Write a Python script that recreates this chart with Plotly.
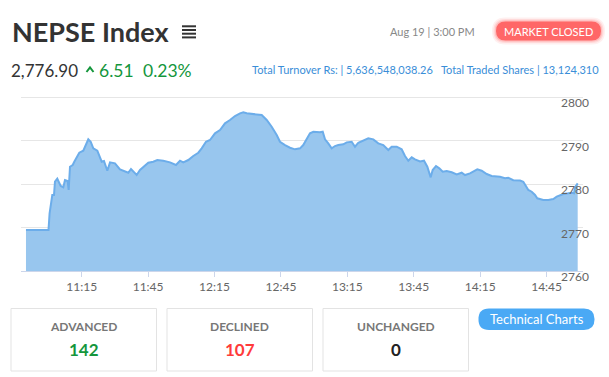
import plotly.graph_objects as go

# ---------------- data ----------------
DATE = "2024-08-19"
times = [
    "10:49:50", "11:00:00", "11:00:30", "11:01:00", "11:01:43", "11:02:29", "11:02:56", "11:03:58",
    "11:05:31", "11:06:41", "11:07:27", "11:08:40", "11:09:07", "11:09:43", "11:10:56", "11:11:39",
    "11:12:44", "11:13:55", "11:15:43", "11:16:56", "11:17:59", "11:19:04", "11:20:14", "11:22:03",
    "11:24:02", "11:25:04", "11:26:34", "11:27:47", "11:30:02", "11:32:18", "11:34:33", "11:36:03",
    "11:37:16", "11:38:45", "11:39:50", "11:41:20", "11:43:08", "11:45:05", "11:47:20", "11:49:09",
    "11:51:51", "11:54:53", "11:57:35", "11:59:24", "12:00:53", "12:03:09", "12:05:24", "12:07:40",
    "12:09:12", "12:11:08", "12:12:57", "12:15:13", "12:17:28", "12:19:44", "12:21:59", "12:24:15",
    "12:26:30", "12:27:59", "12:29:32", "12:31:47", "12:34:03", "12:36:18", "12:38:34", "12:40:49",
    "12:43:05", "12:44:34", "12:46:50", "12:49:05", "12:51:21", "12:53:37", "12:55:05", "12:56:54",
    "12:58:07", "12:59:37", "13:02:38", "13:03:52", "13:04:54", "13:06:23", "13:07:55", "13:09:25",
    "13:10:54", "13:13:10", "13:14:42", "13:16:57", "13:18:27", "13:19:56", "13:22:12", "13:24:27",
    "13:26:43", "13:28:58", "13:31:14", "13:33:29", "13:35:01", "13:37:17", "13:39:32", "13:41:02",
    "13:42:31", "13:44:04", "13:45:33", "13:47:49", "13:49:37", "13:51:07", "13:52:38", "13:53:32",
    "13:55:02", "13:56:32", "13:58:04", "13:59:52", "14:02:08", "14:04:23", "14:06:38", "14:08:08",
    "14:10:23", "14:11:53", "14:13:41", "14:15:41", "14:17:56", "14:20:11", "14:22:27", "14:23:56",
    "14:26:12", "14:27:41", "14:29:57", "14:32:59", "14:34:28", "14:35:41", "14:36:44", "14:38:16",
    "14:39:46", "14:40:47", "14:42:01", "14:43:30", "14:45:46", "14:48:01", "14:49:34", "14:51:03",
    "14:52:32", "14:54:48", "14:56:20", "14:57:22", "14:57:49", "14:59:02",
]
index_values = [
    2769.43, 2769.43, 2773.28, 2775.19, 2777.49, 2777.49, 2780.55, 2781.24,
    2779.56, 2779.26, 2780.94, 2780.71, 2778.64, 2784.00, 2784.39, 2785.15,
    2786.30, 2787.22, 2787.68, 2788.99, 2790.30, 2789.75, 2788.23, 2787.68,
    2785.15, 2785.31, 2783.08, 2785.01, 2784.78, 2783.40, 2782.85, 2782.62,
    2783.47, 2782.62, 2782.09, 2783.24, 2784.00, 2784.92, 2785.15, 2785.54,
    2785.38, 2785.01, 2784.39, 2785.38, 2785.01, 2785.54, 2786.46, 2787.22,
    2788.23, 2789.75, 2790.14, 2791.69, 2792.44, 2793.99, 2794.75, 2795.67,
    2796.29, 2796.52, 2796.29, 2796.13, 2796.06, 2795.90, 2794.75, 2793.20,
    2791.29, 2789.75, 2788.99, 2788.37, 2788.00, 2788.23, 2788.99, 2790.53,
    2791.69, 2792.05, 2791.92, 2792.05, 2790.30, 2789.38, 2788.23, 2788.76,
    2788.99, 2789.15, 2789.61, 2789.75, 2788.60, 2789.52, 2789.98, 2790.53,
    2790.30, 2789.38, 2788.99, 2787.84, 2788.60, 2788.60, 2788.00, 2786.46,
    2785.38, 2786.16, 2785.70, 2785.20, 2785.38, 2784.00, 2781.56, 2783.24,
    2784.16, 2783.63, 2782.85, 2783.01, 2782.71, 2782.25, 2782.62, 2782.09,
    2782.48, 2782.85, 2783.40, 2783.08, 2782.32, 2781.86, 2781.86, 2781.70,
    2781.33, 2781.47, 2780.89, 2780.82, 2780.55, 2779.40, 2778.64, 2778.25,
    2777.49, 2776.73, 2776.57, 2776.34, 2776.34, 2776.57, 2777.10, 2777.49,
    2777.72, 2777.88, 2778.02, 2777.88, 2779.26, 2780.18,
]
x_range = ["10:47:35", "15:01:26"]
y_range = [2760, 2800.3]
y_ticks = [2760, 2770, 2780, 2790, 2800]
x_tick_labels = ["11:15", "11:45", "12:15", "12:45", "13:15", "13:45", "14:15", "14:45"]

title = "NEPSE Index"
last_value = "2,776.90"
change = "6.51"
change_pct = "0.23%"
date_text = "Aug 19 | 3:00 PM"
status_text = "MARKET CLOSED"
turnover_label = "Total Turnover Rs: | "
turnover_value = "5,636,548,038.26"
shares_label = "Total Traded Shares | "
shares_value = "13,124,310"
box_labels = ["ADVANCED", "DECLINED", "UNCHANGED"]
box_values = ["142", "107", "0"]
box_colors = ["#14963c", "#ff3b3b", "#222222"]
button_text = "Technical Charts"

# ---------------- layout helpers ----------------
W, H = 609, 377
FONT = "Lato"


def px(x):
    return x / W


def py(y):
    return 1 - y / H


def rrect_path(x0, y0, x1, y1, r):
    pts = [
        ("M", [(x0 + r, y0)]), ("L", [(x1 - r, y0)]), ("Q", [(x1, y0), (x1, y0 + r)]),
        ("L", [(x1, y1 - r)]), ("Q", [(x1, y1), (x1 - r, y1)]), ("L", [(x0 + r, y1)]),
        ("Q", [(x0, y1), (x0, y1 - r)]), ("L", [(x0, y0 + r)]), ("Q", [(x0, y0), (x0 + r, y0)]),
    ]
    s = ""
    for cmd, ps in pts:
        s += cmd + " " + " ".join(f"{px(a):.5f},{py(b):.5f}" for a, b in ps) + " "
    return s + "Z"


xs = [f"{DATE} {t}" for t in times]

fig = go.Figure()
fig.add_trace(go.Scatter(
    x=xs, y=index_values, mode="lines", fill="tozeroy",
    fillcolor="#98c6ee", line=dict(color="#6cadea", width=2),
    hoverinfo="skip", showlegend=False,
))

tickvals = [f"{DATE} {t}:00" for t in x_tick_labels]

PX_PER_UNIT = 4.345
fig.update_layout(
    width=W, height=H, margin=dict(l=0, r=0, t=0, b=0, autoexpand=False),
    paper_bgcolor="white", plot_bgcolor="white",
    font=dict(family=FONT, color="#333"),
    xaxis=dict(
        domain=[px(21), px(583)], type="date", automargin=False,
        range=[f"{DATE} {x_range[0]}", f"{DATE} {x_range[1]}"],
        tickvals=tickvals, ticktext=x_tick_labels,
        showgrid=False, zeroline=False, showline=True, linecolor="#ccd6eb", linewidth=1,
        ticks="outside", ticklen=5, tickcolor="#ccd6eb",
        tickfont=dict(size=12, color="#666666", family=FONT), fixedrange=True,
    ),
    yaxis=dict(
        domain=[py(271), py(271 - (y_range[1] - y_range[0]) * PX_PER_UNIT)], range=y_range,
        automargin=False,
        tickvals=y_ticks, side="right", ticklabelposition="outside",
        ticklabelstandoff=-23, ticklabelshift=6,
        showgrid=True, gridcolor="#e6e6e6", zeroline=False, showline=False,
        tickfont=dict(size=12, color="#666666", family=FONT), fixedrange=True,
    ),
)

shapes = []
ann = []

# hamburger icon
for yy in [26.3, 30.0, 33.7, 37.4]:
    shapes.append(dict(type="line", xref="paper", yref="paper", x0=px(182), x1=px(196),
                       y0=py(yy), y1=py(yy), line=dict(color="#333", width=2)))

# title
ann.append(dict(text=f"<b>{title}</b>", x=px(10), y=py(32), xanchor="left", yanchor="middle",
                font=dict(size=27, color="#333", family=FONT)))

# price line
ann.append(dict(text=last_value, x=px(9), y=py(70), xanchor="left", yanchor="middle",
                font=dict(size=17, color="#333", family=FONT)))
shapes.append(dict(type="path", xref="paper", yref="paper",
                   path=f"M {px(86.5)},{py(72)} L {px(90)},{py(67.5)} L {px(93.5)},{py(72)}",
                   line=dict(color="#14963c", width=2)))
ann.append(dict(text=change, x=px(96.5), y=py(70), xanchor="left", yanchor="middle",
                font=dict(size=17.5, color="#14963c", family=FONT)))
ann.append(dict(text=change_pct, x=px(141), y=py(70), xanchor="left", yanchor="middle",
                font=dict(size=17.5, color="#14963c", family=FONT)))

# turnover line
ann.append(dict(text=f"{turnover_label}{turnover_value}&nbsp;&nbsp;&nbsp;{shares_label}{shares_value}",
                x=px(601), y=py(69.5), xanchor="right", yanchor="middle",
                font=dict(size=11, color="#3a8ed8", family=FONT)))

# date
ann.append(dict(text=date_text, x=px(477), y=py(31.5), xanchor="right", yanchor="middle",
                font=dict(size=11, color="#888888", family=FONT)))

# market closed badge with glow
for g, op in [(4, 0.10), (2.5, 0.15), (1.2, 0.25)]:
    shapes.append(dict(type="path", xref="paper", yref="paper",
                       path=rrect_path(496 - g, 21.5 - g, 601 + g, 40.5 + g, 9.5 + g),
                       fillcolor=f"rgba(255,102,102,{op})", line=dict(width=0)))
shapes.append(dict(type="path", xref="paper", yref="paper",
                   path=rrect_path(496, 21.5, 601, 40.5, 9.5),
                   fillcolor="#ff6767", line=dict(width=0)))
ann.append(dict(text=status_text, x=px(548.5), y=py(31.3), xanchor="center", yanchor="middle",
                font=dict(size=11, color="white", family=FONT)))

# stat boxes
box_x = [(11, 156.5), (167, 312.5), (323, 468.5)]
for (x0, x1), lab, val, col in zip(box_x, box_labels, box_values, box_colors):
    shapes.append(dict(type="rect", xref="paper", yref="paper", x0=px(x0), x1=px(x1),
                       y0=py(308.5), y1=py(371), line=dict(color="#e3e3e3", width=1),
                       fillcolor="rgba(0,0,0,0)"))
    cx = (x0 + x1) / 2
    ann.append(dict(text=f"<b>{lab}</b>", x=px(cx), y=py(326.5), xanchor="center", yanchor="middle",
                    font=dict(size=12, color="#777777", family=FONT)))
    ann.append(dict(text=f"<b>{val}</b>", x=px(cx), y=py(349), xanchor="center", yanchor="middle",
                    font=dict(size=17, color=col, family=FONT)))

# technical charts button
shapes.append(dict(type="path", xref="paper", yref="paper",
                   path=rrect_path(478.5, 308.5, 594.5, 330, 10.5),
                   fillcolor="#4aa9f5", line=dict(width=0)))
ann.append(dict(text=button_text, x=px(536.5), y=py(319.3), xanchor="center", yanchor="middle",
                font=dict(size=13, color="white", family=FONT)))

for a in ann:
    a.update(xref="paper", yref="paper", showarrow=False)

fig.update_layout(shapes=shapes, annotations=ann)

fig.write_html("out.html", config={"displayModeBar": False},
               post_script="document.body.style.margin='0';document.body.style.overflow='hidden';")
